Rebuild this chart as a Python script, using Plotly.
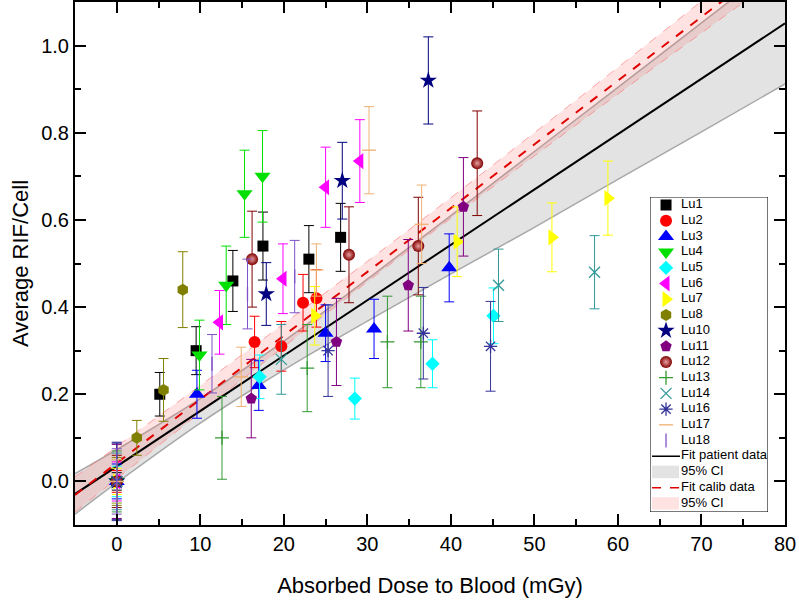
import plotly.graph_objects as go

# ---------------- data ----------------
lu1_x = [0, 5.15, 9.5, 13.9, 17.5, 23.0, 26.8]
lu1_y = [0, 0.20, 0.30, 0.46, 0.54, 0.51, 0.56]
lu1_e = [0.02, 0.05, 0.055, 0.07, 0.078, 0.077, 0.078]

lu2_x = [0, 16.5, 19.7, 22.3, 23.9]
lu2_y = [0, 0.32, 0.31, 0.41, 0.42]
lu2_e = [0.025, 0.059, 0.057, 0.065, 0.066]

lu3_x = [0, 9.6, 17.0, 25.0, 30.8, 39.8]
lu3_y = [0, 0.20, 0.22, 0.34, 0.35, 0.49]
lu3_e = [0.04, 0.055, 0.057, 0.065, 0.068, 0.078]

lu4_x = [0, 9.9, 13.1, 15.3, 17.45]
lu4_y = [0, 0.29, 0.45, 0.66, 0.70]
lu4_e = [0.05, 0.08, 0.09, 0.10, 0.105]

lu5_x = [0, 17.1, 28.5, 37.8, 45.1]
lu5_y = [0, 0.24, 0.19, 0.27, 0.38]
lu5_e = [0.035, 0.05, 0.047, 0.055, 0.064]

lu6_x = [0, 12.3, 19.9, 25.0, 29.1]
lu6_y = [0, 0.365, 0.465, 0.675, 0.735]
lu6_e = [0.045, 0.073, 0.08, 0.092, 0.095]

lu7_x = [0, 23.7, 40.75, 52.1, 58.8]
lu7_y = [0, 0.38, 0.55, 0.56, 0.65]
lu7_e = [0.03, 0.067, 0.08, 0.079, 0.085]

lu8_x = [0, 2.4, 5.6, 7.9]
lu8_y = [0, 0.10, 0.21, 0.44]
lu8_e = [0.055, 0.04, 0.072, 0.087]

lu10_x = [0, 17.9, 27.0, 37.3]
lu10_y = [0, 0.43, 0.69, 0.92]
lu10_e = [0.088, 0.072, 0.088, 0.10]

lu11_x = [0, 16.1, 26.3, 34.9, 41.5]
lu11_y = [0, 0.19, 0.32, 0.45, 0.63]
lu11_e = [0.085, 0.09, 0.10, 0.105, 0.113]

lu12_x = [0, 16.2, 27.8, 36.1, 43.15]
lu12_y = [0, 0.51, 0.52, 0.54, 0.73]
lu12_e = [0.06, 0.11, 0.11, 0.112, 0.12]

lu13_x = [0, 12.6, 22.8, 32.4, 36.4]
lu13_y = [0, 0.10, 0.26, 0.32, 0.32]
lu13_e = [0.07, 0.095, 0.10, 0.105, 0.105]

lu14_x = [0, 19.7, 45.7, 57.2]
lu14_y = [0, 0.28, 0.45, 0.48]
lu14_e = [0.065, 0.08, 0.083, 0.084]

lu16_x = [0, 25.3, 36.7, 44.75]
lu16_y = [0, 0.30, 0.34, 0.31]
lu16_e = [0.09, 0.105, 0.105, 0.103]

lu17_x = [0, 14.9, 23.9, 30.2, 36.5]
lu17_y = [0, 0.24, 0.485, 0.76, 0.59]
lu17_e = [0.05, 0.068, 0.06, 0.10, 0.09]

lu18_x = [0, 11.4, 15.65, 21.3]
lu18_y = [0, 0.27, 0.43, 0.47]
lu18_e = [0.075, 0.067, 0.08, 0.083]

# fit lines (end points)
fit_x = [-5, 80]
fit_patient_y = [-0.029, 1.051]
fit_calib_y = [-0.031, 1.212]

# 95% confidence bands
band_x = [-5, 0, 10, 20, 30, 40, 50, 60, 70, 80]
patient_lo = [-0.075, -0.003, 0.134, 0.256, 0.368, 0.476, 0.583, 0.693, 0.802, 0.912]
patient_hi = [0.018, 0.073, 0.190, 0.322, 0.464, 0.610, 0.757, 0.904, 1.052, 1.200]
calib_lo = [-0.070, 0.006, 0.158, 0.309, 0.458, 0.604, 0.747, 0.889, 1.029, 1.169]
calib_hi = [0.010, 0.080, 0.220, 0.362, 0.505, 0.651, 0.800, 0.950, 1.102, 1.255]

legend_labels = ["Lu1", "Lu2", "Lu3", "Lu4", "Lu5", "Lu6", "Lu7", "Lu8", "Lu10",
                 "Lu11", "Lu12", "Lu13", "Lu14", "Lu16", "Lu17", "Lu18",
                 "Fit patient data", "95% CI", "Fit calib data", "95% CI"]

# ---------------- styles ----------------
series = [
    (lu1_x, lu1_y, lu1_e, "#000000", "square", 11),
    (lu2_x, lu2_y, lu2_e, "#ff0000", "circle", 12),
    (lu3_x, lu3_y, lu3_e, "#0000ff", "triangle-up", 14),
    (lu4_x, lu4_y, lu4_e, "#00e000", "triangle-down", 14),
    (lu5_x, lu5_y, lu5_e, "#00ffff", "diamond", 11),
    (lu6_x, lu6_y, lu6_e, "#ff00ff", "triangle-left", 14),
    (lu7_x, lu7_y, lu7_e, "#ffff00", "triangle-right", 14),
    (lu8_x, lu8_y, lu8_e, "#808000", "hexagon", 12),
    (lu10_x, lu10_y, lu10_e, "#000080", "star", 13),
    (lu11_x, lu11_y, lu11_e, "#800080", "pentagon", 12),
    (lu12_x, lu12_y, lu12_e, "#800000", "circle", 12),
    (lu13_x, lu13_y, lu13_e, "#339933", "cross-thin-open", 10),
    (lu14_x, lu14_y, lu14_e, "#339999", "x-thin-open", 11),
    (lu16_x, lu16_y, lu16_e, "#333399", "asterisk-open", 11),
    (lu17_x, lu17_y, lu17_e, "#f0b070", "line-ew-open", 10),
    (lu18_x, lu18_y, lu18_e, "#8050c8", "line-ns-open", 10),
]

FONT = "Arial, Liberation Sans, sans-serif"


def marker_style(color, symbol, size):
    m = dict(symbol=symbol, size=size, color=color)
    if symbol.endswith("open"):
        m["line"] = dict(color=color, width=1.3)
    else:
        m["line"] = dict(width=0)
    if color == "#800000":
        m["gradient"] = dict(type="radial", color="#e8a0a0")
    return m


fig = go.Figure()

# confidence bands
fig.add_trace(go.Scatter(x=band_x, y=patient_lo, mode="lines", line=dict(color="#a8a8a8", width=1.5, shape="spline"),
                         showlegend=False, hoverinfo="skip"))
fig.add_trace(go.Scatter(x=band_x, y=patient_hi, mode="lines", line=dict(color="#a8a8a8", width=1.5, shape="spline"),
                         fill="tonexty", fillcolor="rgba(128,128,128,0.22)", showlegend=False, hoverinfo="skip"))
fig.add_trace(go.Scatter(x=band_x, y=calib_lo, mode="lines",
                         line=dict(color="rgba(255,110,110,0.6)", width=1, dash="dash", shape="spline"),
                         showlegend=False, hoverinfo="skip"))
fig.add_trace(go.Scatter(x=band_x, y=calib_hi, mode="lines",
                         line=dict(color="rgba(255,110,110,0.6)", width=1, dash="dash", shape="spline"),
                         fill="tonexty", fillcolor="rgba(255,100,100,0.18)", showlegend=False, hoverinfo="skip"))

# fit lines
fig.add_trace(go.Scatter(x=fit_x, y=fit_patient_y, mode="lines", line=dict(color="black", width=2),
                         showlegend=False, hoverinfo="skip"))
fig.add_trace(go.Scatter(x=fit_x, y=fit_calib_y, mode="lines", line=dict(color="#e00000", width=2, dash="dash"),
                         showlegend=False, hoverinfo="skip"))

# data
for (xs, ys, es, color, symbol, size), name in zip(series, legend_labels):
    fig.add_trace(go.Scatter(
        x=xs, y=ys, mode="markers", name=name,
        marker=marker_style(color, symbol, size),
        error_y=dict(type="data", array=es, visible=True, color=color, thickness=1, width=5),
        showlegend=False))

# ---------------- custom legend (own small axes) ----------------
mx, tx = 666, 681
for i, (xs, ys, es, color, symbol, size) in enumerate(series):
    fig.add_trace(go.Scatter(x=[mx], y=[i], mode="markers", marker=marker_style(color, symbol, size),
                             xaxis="x2", yaxis="y2", showlegend=False, hoverinfo="skip"))
n = len(series)
fig.add_trace(go.Scatter(x=[652, 680], y=[n, n], mode="lines", line=dict(color="black", width=1.5),
                         xaxis="x2", yaxis="y2", showlegend=False, hoverinfo="skip"))
fig.add_trace(go.Scatter(x=[652, 679, 679, 652, 652], y=[n + 0.6, n + 0.6, n + 1.4, n + 1.4, n + 0.6],
                         mode="lines", line=dict(width=0), fill="toself", fillcolor="rgba(128,128,128,0.22)",
                         xaxis="x2", yaxis="y2", showlegend=False, hoverinfo="skip"))
fig.add_trace(go.Scatter(x=[652, 680], y=[n + 2, n + 2], mode="lines", line=dict(color="#e00000", width=1.5, dash="dash"),
                         xaxis="x2", yaxis="y2", showlegend=False, hoverinfo="skip"))
fig.add_trace(go.Scatter(x=[652, 679, 679, 652, 652], y=[n + 2.6, n + 2.6, n + 3.4, n + 3.4, n + 2.6],
                         mode="lines", line=dict(width=0), fill="toself", fillcolor="rgba(255,100,100,0.18)",
                         xaxis="x2", yaxis="y2", showlegend=False, hoverinfo="skip"))
fig.add_trace(go.Scatter(x=[tx] * len(legend_labels), y=list(range(len(legend_labels))), mode="text",
                         text=legend_labels, textposition="middle right",
                         textfont=dict(family=FONT, size=13, color="black"),
                         xaxis="x2", yaxis="y2", showlegend=False, hoverinfo="skip"))

axis_common = dict(ticks="inside", tickwidth=2, tickcolor="black", ticklen=11,
                   showline=True, linewidth=2, linecolor="black", mirror="ticks",
                   showgrid=False, zeroline=False, automargin=False,
                   tickfont=dict(family=FONT, size=20, color="black"))

fig.update_layout(
    width=799, height=604,
    margin=dict(l=75, r=14, t=2, b=79),
    paper_bgcolor="white", plot_bgcolor="white",
    showlegend=False,
    font=dict(family=FONT, color="black"),
    xaxis=dict(range=[-5, 80], tickmode="linear", tick0=0, dtick=10,
               minor=dict(dtick=5, ticks="inside", ticklen=6, tickwidth=2, tickcolor="black"),
               title=dict(text="Absorbed Dose to Blood (mGy)", font=dict(family=FONT, size=22), standoff=24),
               **axis_common),
    yaxis=dict(range=[-0.1, 1.1], tickmode="linear", tick0=0, dtick=0.2, tickformat=".1f",
               minor=dict(dtick=0.1, ticks="inside", ticklen=6, tickwidth=2, tickcolor="black"),
               title=dict(text="Average RIF/Cell", font=dict(family=FONT, size=22), standoff=6),
               **axis_common),
    xaxis2=dict(domain=[0.8099, 0.976], range=[650, 768], visible=False, anchor="y2", fixedrange=True),
    yaxis2=dict(domain=[0.0249, 0.6272], range=[19.55, -0.51], visible=False, anchor="x2", fixedrange=True),
    shapes=[dict(type="rect", xref="x2", yref="y2", x0=650, x1=768, y0=-0.51, y1=19.55,
                 line=dict(color="black", width=1), fillcolor="white", layer="below")],
)

fig.write_html("out.html", config={"displayModeBar": False},
               post_script="document.body.style.margin='0px';")
